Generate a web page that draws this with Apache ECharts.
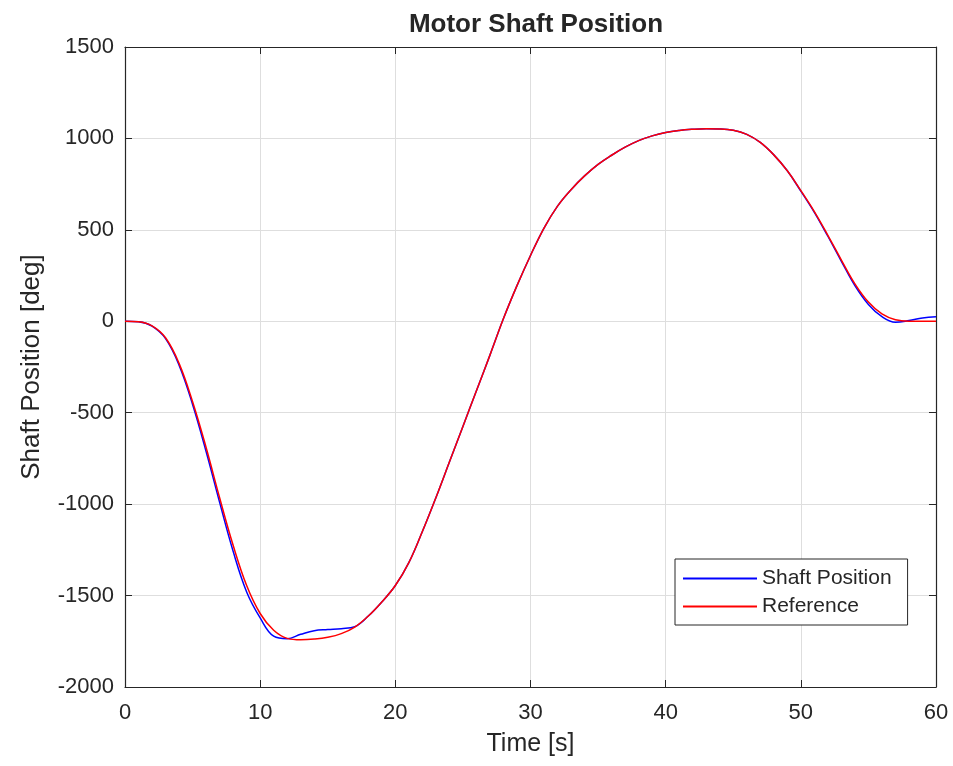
<!DOCTYPE html>
<html>
<head>
    <meta charset="utf-8">
    <title>Motor Shaft Position</title>
    <script src="https://cdn.jsdelivr.net/npm/echarts@6.0.0/dist/echarts.min.js"></script>
    <style>
        html, body { margin: 0; padding: 0; background: #fff; }
    </style>
</head>
<body>
    <div id="main" style="width: 953px;height:766px;"></div>
    <script type="text/javascript">
        // time samples [s]
        var time = [0, 1, 2, 3, 4, 5, 6, 7, 8, 9, 10, 11, 12, 13, 14, 15, 16, 17, 18, 19,
            20, 21, 22, 23, 24, 25, 26, 27, 28, 29, 30, 31, 32, 33, 34, 35, 36, 37, 38, 39,
            40, 41, 42, 43, 44, 45, 46, 47, 48, 49, 50, 51, 52, 53, 54, 55, 56, 57, 58, 59, 60];

        // measured shaft position [deg]
        var shaftPosition = [0, -3, -27, -95, -240, -455, -712, -990, -1258, -1480,
            -1622, -1722, -1736, -1712, -1692, -1686, -1681, -1670, -1612, -1535,
            -1445, -1320, -1150, -965, -770, -575, -380, -185, 15, 195,
            360, 510, 630, 720, 795, 858, 908, 952, 988, 1014,
            1033, 1044, 1050, 1053, 1052, 1045, 1022, 978, 910, 823,
            712, 596, 465, 328, 195, 92, 25, -5, 4, 18, 25];

        // reference trajectory [deg]
        var reference = [0, -3, -25, -90, -230, -440, -690, -965, -1225, -1445,
            -1598, -1690, -1734, -1742, -1738, -1728, -1708, -1672, -1612, -1535,
            -1445, -1320, -1150, -965, -770, -575, -380, -185, 15, 195,
            360, 510, 630, 720, 795, 858, 908, 952, 988, 1014,
            1033, 1044, 1050, 1053, 1052, 1045, 1022, 978, 910, 823,
            715, 600, 470, 335, 205, 105, 40, 8, 0, 0, 0];

        var xTicks = [0, 60, 10];      // min, max, step
        var yTicks = [-2000, 1500, 500];

        var font = '"Liberation Sans", Arial, sans-serif';
        var ink = '#262626';
        var gridColor = '#dedede';

        function pairs(ys) {
            return time.map(function (t, i) { return [t, ys[i]]; });
        }

        var myChart = echarts.init(document.getElementById('main'));

        // bottom/left axes carry labels and grid, top/right axes only close the box
        function axis(range, pos, main) {
            return {
                type: 'value',
                position: pos,
                min: range[0],
                max: range[1],
                interval: range[2],
                axisLine: { show: true, onZero: false, lineStyle: { color: ink, width: 1.2 } },
                axisTick: { show: true, inside: true, length: 7, lineStyle: { color: ink, width: 1 } },
                axisLabel: {
                    show: main, color: ink, fontSize: 22, fontFamily: font,
                    formatter: function (v) { return String(v); }
                },
                splitLine: { show: main, lineStyle: { color: gridColor, width: 1 } }
            };
        }

        var xMain = axis(xTicks, 'bottom', true);
        xMain.axisLabel.margin = 15;
        xMain.name = 'Time [s]';
        xMain.nameLocation = 'middle';
        xMain.nameGap = 45;
        xMain.nameTextStyle = { color: ink, fontSize: 25, fontFamily: font };

        var yMain = axis(yTicks, 'left', true);
        yMain.axisLabel.margin = 11;
        yMain.name = 'Shaft Position [deg]';
        yMain.nameLocation = 'middle';
        yMain.nameGap = 80;
        yMain.nameTextStyle = { color: ink, fontSize: 26, fontFamily: font };

        var option = {
            backgroundColor: '#fff',
            animation: false,
            title: {
                text: 'Motor Shaft Position',
                left: 531,
                top: 7,
                textAlign: 'center',
                textStyle: { color: ink, fontSize: 26, fontWeight: 'bold', fontFamily: font }
            },
            grid: { left: 125, right: 17, top: 47, bottom: 79 },
            legend: {
                data: ['Shaft Position', 'Reference'],
                orient: 'vertical',
                left: 675,
                top: 559,
                padding: [9, 16, 8, 8],
                itemGap: 7,
                itemWidth: 74,
                itemHeight: 2,
                icon: 'rect',
                backgroundColor: '#fff',
                borderColor: ink,
                borderWidth: 1,
                borderRadius: 0,
                textStyle: { color: ink, fontSize: 21, fontFamily: font }
            },
            xAxis: [xMain, axis(xTicks, 'top', false)],
            yAxis: [yMain, axis(yTicks, 'right', false)],
            series: [{
                name: 'Shaft Position',
                type: 'line',
                data: pairs(shaftPosition),
                smooth: 0.4,
                showSymbol: false,
                symbol: 'none',
                color: '#0000ff',
                lineStyle: { color: '#0000ff', width: 1.5 },
                z: 2
            }, {
                name: 'Reference',
                type: 'line',
                data: pairs(reference),
                smooth: 0.4,
                showSymbol: false,
                symbol: 'none',
                color: '#ff0000',
                lineStyle: { color: '#ff0000', width: 1.5 },
                z: 3
            }]
        };

        myChart.setOption(option);
    </script>
</body>
</html>
